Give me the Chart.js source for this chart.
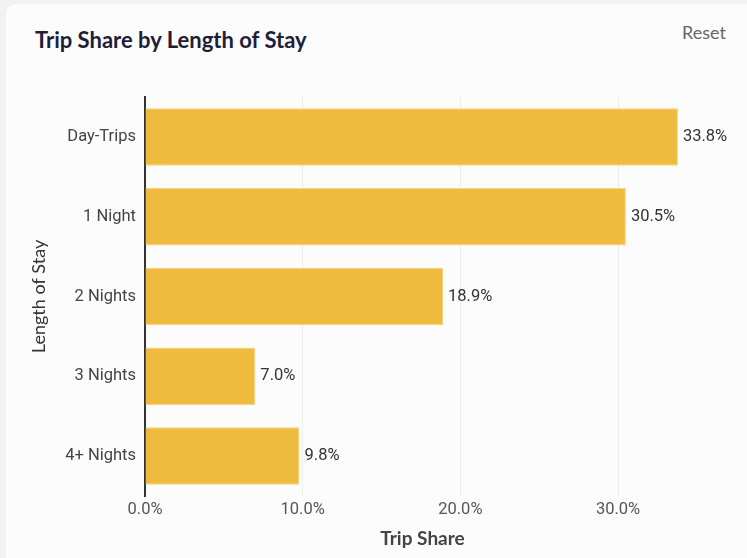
<!DOCTYPE html>
<html>
<head>
<meta charset="utf-8">
<script src="https://cdn.jsdelivr.net/npm/chart.js@4/dist/chart.umd.min.js"></script>
<style>
  html, body { margin: 0; padding: 0; background: #f2f2f2; width: 747px; height: 558px; overflow: hidden; }
  .card { position: absolute; left: 6px; top: 4px; width: 780px; height: 600px; background: #fcfcfc; border-radius: 10px; }
  .title { position: absolute; left: 35px; top: 26px; font: bold 22px Lato, "Open Sans", sans-serif; color: #1e1e38; }
  .reset { position: absolute; left: 682px; top: 21px; font: 18px Lato, "Open Sans", sans-serif; color: #666; }
  .wrap { position: absolute; left: 0; top: 0; width: 747px; height: 558px; }
</style>
</head>
<body>
<div class="card"></div>
<div class="title">Trip Share by Length of Stay</div>
<div class="reset">Reset</div>
<div class="wrap"><canvas id="c" width="747" height="558"></canvas></div>
<script>
const categories = ["Day-Trips", "1 Night", "2 Nights", "3 Nights", "4+ Nights"];
const tripShare = [33.8, 30.5, 18.9, 7.0, 9.8];
const xTickValues = [0, 10, 20, 30];
const xMax = 35.2;

const barLabels = {
  id: 'barLabels',
  afterDatasetsDraw(chart) {
    const ctx = chart.ctx;
    const meta = chart.getDatasetMeta(0);
    ctx.save();
    ctx.font = '16.5px Roboto, sans-serif';
    ctx.fillStyle = '#333';
    ctx.textAlign = 'left';
    ctx.textBaseline = 'middle';
    meta.data.forEach((bar, i) => {
      ctx.fillText(tripShare[i].toFixed(1) + '%', bar.x + 5, bar.y);
    });
    ctx.restore();
  }
};

new Chart(document.getElementById('c'), {
  type: 'bar',
  data: {
    labels: categories,
    datasets: [{
      data: tripShare,
      backgroundColor: '#EEBB3E',
      borderColor: '#F6D27E',
      borderWidth: 1,
      barPercentage: 0.72,
      categoryPercentage: 1.0
    }]
  },
  options: {
    indexAxis: 'y',
    responsive: false,
    animation: false,
    layout: { padding: { top: 97, right: 47, bottom: 8, left: 28 } },
    plugins: { legend: { display: false }, tooltip: { enabled: false } },
    scales: {
      x: {
        min: 0,
        max: xMax,
        afterBuildTicks(scale) { scale.ticks = xTickValues.map(v => ({ value: v })); },
        ticks: {
          callback: v => Number(v).toFixed(1) + '%',
          font: { family: 'Roboto, sans-serif', size: 16.5 },
          color: '#555',
          padding: 4
        },
        grid: { color: '#ebebeb', drawTicks: false, lineWidth: 1 },
        border: { display: false },
        title: { display: true, text: 'Trip Share', font: { family: 'Lato, sans-serif', size: 19, weight: 'bold' }, color: '#444', padding: { top: 4, bottom: 0 } },
        afterFit(scale) { scale.height = 54; }
      },
      y: {
        ticks: {
          font: { family: 'Roboto, sans-serif', size: 16.5 },
          color: '#444',
          padding: 9
        },
        grid: { display: false, drawTicks: false },
        border: { display: true, color: '#333', width: 2 },
        title: { display: true, text: 'Length of Stay', font: { family: 'Lato, sans-serif', size: 18 }, color: '#333', padding: { top: 0, bottom: 0 } },
        afterFit(scale) { scale.width = 117; }
      }
    }
  },
  plugins: [barLabels]
});
</script>
</body>
</html>
